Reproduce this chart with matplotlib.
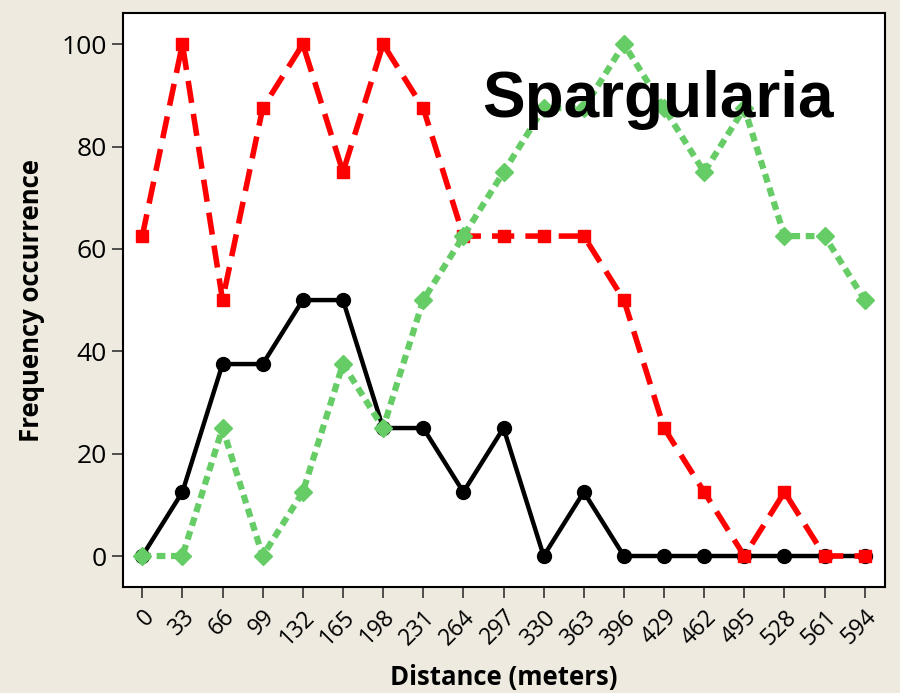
import matplotlib
matplotlib.use("Agg")
import matplotlib.pyplot as plt

distance = [0, 33, 66, 99, 132, 165, 198, 231, 264, 297, 330, 363, 396, 429, 462, 495, 528, 561, 594]
black_vals = [0, 12.5, 37.5, 37.5, 50, 50, 25, 25, 12.5, 25, 0, 12.5, 0, 0, 0, 0, 0, 0, 0]
red_vals = [62.5, 100, 50, 87.5, 100, 75, 100, 87.5, 62.5, 62.5, 62.5, 62.5, 50, 25, 12.5, 0, 12.5, 0, 0]
green_vals = [0, 0, 25, 0, 12.5, 37.5, 25, 50, 62.5, 75, 87.5, 87.5, 100, 87.5, 75, 87.5, 62.5, 62.5, 50]
y_ticks = [0, 20, 40, 60, 80, 100]
title = "Spargularia"

plt.rcParams['font.family'] = ['Open Sans', 'DejaVu Sans']
bg = '#eeeae0'
fig = plt.figure(figsize=(9, 6.93), dpi=100, facecolor=bg)
ax = fig.add_axes([0.137, 0.153, 0.846, 0.828])
ax.set_facecolor('white')

ax.plot(distance, black_vals, color='black', lw=3.2, marker='o', ms=10, zorder=3)
ax.plot(distance, red_vals, color='#ff0000', lw=4, ls=(0, (4, 2)), marker='s', ms=8.5, zorder=4)
ax.plot(distance, green_vals, color='#66cc66', lw=4.5, ls=(0, (1.4, 0.9)), marker='D', ms=9, zorder=5)

ax.set_xlim(-15.6, 610.4)
ax.set_ylim(-6.05, 106.05)
ax.set_xticks(distance)
ax.set_xticklabels([str(d) for d in distance], rotation=45, ha='right', rotation_mode='anchor', fontsize=16.5)
ax.set_yticks(y_ticks)
ax.set_yticklabels([str(v) for v in y_ticks], fontsize=19)
ax.tick_params(axis='both', direction='out', length=8, width=1.2, color='#333333')
ax.tick_params(axis='x', pad=5)
ax.tick_params(axis='y', pad=4)
for s in ax.spines.values():
    s.set_linewidth(1.5)
    s.set_color('black')

ax.set_xlabel('Distance (meters)', fontsize=18.5, fontweight='bold', labelpad=10)
ax.set_ylabel('Frequency occurrence', fontsize=18.5, fontweight='bold', labelpad=12)

ax.text(0.471, 0.849, title, transform=ax.transAxes, fontsize=46, fontweight='bold',
        family=['Liberation Sans', 'DejaVu Sans'], ha='left', va='center', zorder=6)

fig.savefig('out.png', dpi=100, facecolor=bg)
